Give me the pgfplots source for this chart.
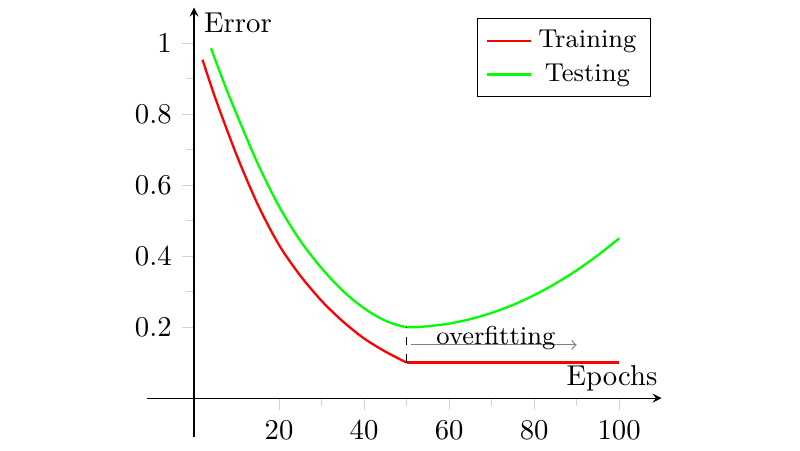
\documentclass[border=0pt]{standalone}
\usepackage{pgfplots}
\pgfplotsset{compat=1.18}

\begin{document}
\begin{tikzpicture}
\begin{axis}[
    axis lines=middle,
    x=1.481pt, y=123.7pt,
    xmin=-11, xmax=110,
    ymin=-0.11, ymax=1.1,
    xtick={20,40,60,80,100},
    ytick={0.2,0.4,0.6,0.8,1},
    minor tick num=1,
    tick align=outside,
    tick style={gray!35},
    xlabel={Epochs},
    ylabel={Error},
    label style={font=\small},
    every axis x label/.style={at={(current axis.right of origin)},anchor=south east,xshift=2pt,yshift=-1pt},
    every axis y label/.style={at={(current axis.above origin)},anchor=north west,yshift=1.5pt},
    legend cell align=center,
    legend style={at={(0.98,0.975)},anchor=north east,font=\small},
    legend image code/.code={\draw[#1] (0cm,0cm) -- (0.54cm,0cm);},
]
\addplot[red, thick, smooth] coordinates {
    (2,0.953) (5,0.845) (10,0.685) (15,0.545) (20,0.431) (25,0.345)
    (30,0.274) (35,0.216) (40,0.168) (45,0.131) (50,0.100)
};
\addlegendentry{Training}
\addplot[green, thick, smooth] coordinates {
    (4,0.985) (7,0.889) (10,0.800) (15,0.660) (20,0.540) (25,0.443)
    (30,0.366) (35,0.302) (40,0.253) (45,0.218) (50,0.200)
    (55,0.2025) (60,0.210) (65,0.2225) (70,0.240) (75,0.2625) (80,0.290)
    (85,0.3225) (90,0.360) (95,0.4025) (100,0.450)
};
\addlegendentry{Testing}
\addplot[red, thick, forget plot] coordinates {(50,0.1) (100,0.1)};
% overfitting region
\draw[dashed] (axis cs:50,0.1) -- (axis cs:50,0.2);
\draw[gray, ->] (axis cs:51,0.15) -- (axis cs:90,0.15);
\node[anchor=base, font=\small] at (axis cs:71,0.15) {overfitting};
\coordinate (O) at (axis cs:0,0);
\end{axis}
\path (O) ++(-67.6pt,-18.1pt) rectangle ++(278.7pt,156.8pt);
\end{tikzpicture}
\end{document}
